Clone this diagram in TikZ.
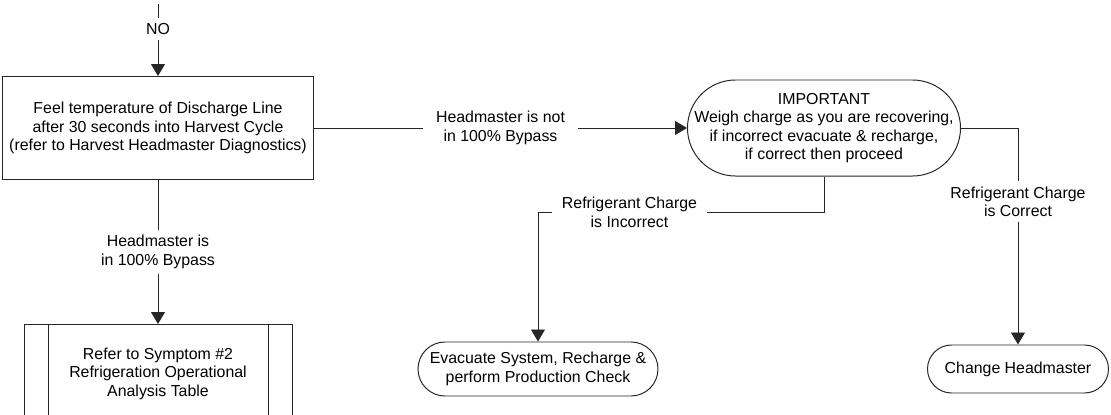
\documentclass[tikz,border=0pt]{standalone}
\usepackage{fontspec}
\setmainfont{Liberation Sans}
\usetikzlibrary{arrows.meta, positioning, shapes.misc, calc}
\tikzset{
  process/.style={
    rectangle,
    draw=black!85,
    line width=0.7pt,
    align=center,
    minimum width=7.775cm,
    minimum height=2.575cm,
    font=\fontsize{11.3}{13.1}\selectfont
  },
  predef/.style={
    process,
    minimum width=6.7cm,
    minimum height=2.45cm,
    path picture={
      \draw[black!85, line width=0.7pt]
        ([xshift=0.6cm]path picture bounding box.north west) --
        ([xshift=0.6cm]path picture bounding box.south west);
      \draw[black!85, line width=0.7pt]
        ([xshift=-0.6cm]path picture bounding box.north east) --
        ([xshift=-0.6cm]path picture bounding box.south east);
    }
  },
  terminal/.style={
    rectangle,
    draw=black!85,
    line width=0.7pt,
    align=center,
    inner sep=1pt,
    font=\fontsize{11.3}{13.1}\selectfont
  },
  lbl/.style={
    fill=white,
    align=center,
    inner xsep=7pt,
    inner ysep=4pt,
    font=\fontsize{11.3}{13.1}\selectfont
  },
  arrow/.style={-{Triangle[length=0.3cm, width=0.35cm]}, draw=black!85, line width=0.7pt}
}

\begin{document}
\begin{tikzpicture}
  \clip (0,0) rectangle (27.775,-10.35);

  \node[process] (feel) at (3.95,-3.2)
        {Feel temperature of Discharge Line\\after 30 seconds into Harvest Cycle\\(refer to Harvest Headmaster Diagnostics)};
  \coordinate[above=1.8cm of feel] (entry);
  \node[predef, below=3.6cm of feel] (symptom)
        {Refer to Symptom \#2\\Refrigeration Operational\\Analysis Table};
  \node[terminal, right=9.325cm of feel, minimum width=6.825cm, minimum height=2.4cm,
        rounded corners=1.2cm] (important)
        {IMPORTANT\\Weigh charge as you are recovering,\\if incorrect evacuate \& recharge,\\if correct then proceed};
  \node[terminal, below=4.125cm of important, xshift=-7.15cm,
        minimum width=6cm, minimum height=1.35cm, rounded corners=0.675cm] (evacuate)
        {Evacuate System, Recharge \&\\perform Production Check};
  \node[terminal, below=4.2cm of important, xshift=4.85cm,
        minimum width=4.525cm, minimum height=1.2cm, rounded corners=0.6cm] (change)
        {Change Headmaster};

  \draw[arrow] (entry) -- node[lbl, pos=0.35]{NO} (feel);
  \draw[arrow] (feel) -- node[lbl]{Headmaster is\\in 100\% Bypass} (symptom);
  \draw[arrow] (feel) -- node[lbl, inner xsep=9pt]{Headmaster is not\\in 100\% Bypass} (important);
  \draw[arrow] (important.south) -- ++(0,-0.9) -| node[lbl, pos=0.34]{Refrigerant Charge\\is Incorrect} (evacuate);
  \draw[arrow] (important.east) -| node[lbl, pos=0.67]{Refrigerant Charge\\is Correct} (change);
\end{tikzpicture}
\end{document}
